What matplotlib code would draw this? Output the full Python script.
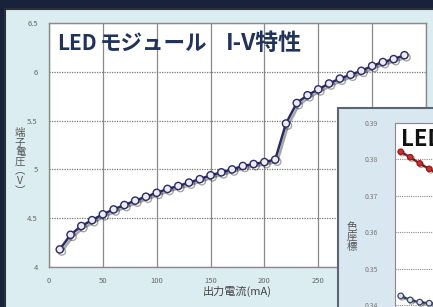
import matplotlib
matplotlib.use("Agg")
import matplotlib.pyplot as plt
import matplotlib.patheffects as pe
from matplotlib.patches import Rectangle

plt.rcParams['font.family'] = ['Noto Sans CJK JP', 'DejaVu Sans']

# I-V data (mA, V)
current = [10, 20, 30, 40, 50, 60, 70, 80, 90, 100, 110, 120, 130, 140, 150, 160, 170,
           180, 190, 200, 210, 220, 230, 240, 250, 260, 270, 280, 290, 300, 310, 320, 330]
voltage = [4.18, 4.33, 4.42, 4.48, 4.54, 4.59, 4.635, 4.68, 4.72, 4.76, 4.80, 4.83, 4.865,
           4.90, 4.94, 4.97, 5.00, 5.035, 5.055, 5.075, 5.10, 5.47, 5.68, 5.76, 5.82, 5.88,
           5.93, 5.97, 6.01, 6.06, 6.10, 6.13, 6.17]
x_ticks = [0, 50, 100, 150, 200, 250, 300, 350]
y_ticks = [4, 4.5, 5, 5.5, 6, 6.5]

# inset (colour coordinate), only the left part is visible
inset_x = [10, 20, 30, 40, 50]
inset_red = [0.3821, 0.3806, 0.3789, 0.3774, 0.3760]
inset_blue = [0.3425, 0.3414, 0.3408, 0.3405, 0.3402]
inset_ticks = [0.34, 0.35, 0.36, 0.37, 0.38, 0.39]

W, H = 433, 307
fig = plt.figure(figsize=(W / 100, H / 100), dpi=100)
fig.patch.set_facecolor('#18223a')


def box(x0, y0, x1, y1):
    # pixel box (top-left origin) -> figure fraction rect
    return [x0 / W, (H - y1) / H, (x1 - x0) / W, (y1 - y0) / H]


def shadow(off):
    return [pe.SimpleLineShadow(offset=(off, -off), shadow_color='k', alpha=0.35), pe.Normal()]


# main panel
l, b, w, h = box(5, 9, 440, 320)
fig.add_artist(Rectangle((l, b), w, h, transform=fig.transFigure, facecolor='#dcedf1',
                         edgecolor='#2a2f38', lw=1.5, zorder=-1))

ax = fig.add_axes(box(49, 23, 426, 267))
ax.set_facecolor('white')
ax.plot(current, voltage, color='#2b2b66', lw=1.8, marker='o', ms=5.2,
        mfc='#ecebf6', mec='#2b2b66', mew=1.0, zorder=3, path_effects=shadow(1.5))
ax.set_xlim(0, 350)
ax.set_ylim(4, 6.5)
ax.set_xticks(x_ticks)
ax.set_yticks(y_ticks)
ax.set_xticklabels([str(v) for v in x_ticks])
ax.set_yticklabels(['4', '4.5', '5', '5.5', '6', '6.5'])
ax.tick_params(length=0, labelsize=5.5, labelcolor='#666666')
ax.tick_params(axis='x', pad=7)
ax.tick_params(axis='y', pad=8)
ax.xaxis.grid(True, color='#8a8a8a', lw=0.9)
ax.yaxis.grid(True, color='#777777', lw=0.9, linestyle=(0, (1, 1)))
ax.set_axisbelow(True)
for s in ax.spines.values():
    s.set_color('#8a8a8a')
    s.set_linewidth(1.0)
ax.set_xlabel('出力電流(mA)', fontsize=8, color='#444444', labelpad=1)

# title in pieces so the spacing follows the reference
title_kw = dict(fontweight='bold', color='#22335a', va='center', ha='left')
fig.text(57 / W, 1 - 43 / H, 'LED', fontsize=15, **title_kw)
fig.text(100 / W, 1 - 43 / H, 'モジュール', fontsize=15.5, **title_kw)
fig.text(226 / W, 1 - 43 / H, 'I-V特性', fontsize=16.5, **title_kw)

fig.text(20 / W, 1 - 162 / H, '端\n子\n電\n圧\n︵\nV\n︶', fontsize=7.5, color='#555555',
         ha='center', va='center', linespacing=0.95)

# inset panel
l, b, w, h = box(338, 108, 460, 330)
fig.add_artist(Rectangle((l, b), w, h, transform=fig.transFigure, facecolor='#d9e7f0',
                         edgecolor='#5d6670', lw=1.5, zorder=1))

ax2 = fig.add_axes(box(395, 123, 595, 341.4), zorder=2)
ax2.set_facecolor('white')
ax2.plot(inset_x, inset_red, color='#8a1a1a', lw=1.5, marker='o', ms=4,
         mfc='#d42a2a', mec='#8a1a1a', mew=0.8, path_effects=shadow(1))
ax2.plot(inset_x, inset_blue, color='#3a4766', lw=1.5, marker='o', ms=4,
         mfc='#dfe3ee', mec='#3a4766', mew=0.9, path_effects=shadow(1))
ax2.set_xlim(4, 214.5)
ax2.set_ylim(0.33, 0.39)
ax2.set_yticks(inset_ticks)
ax2.set_yticklabels(['0.34', '0.35', '0.36', '0.37', '0.38', '0.39'])
ax2.set_xticks([])
ax2.tick_params(length=0, labelsize=5, labelcolor='#777777', pad=12)
ax2.yaxis.grid(True, color='#8a8a8a', lw=0.8, linestyle=(0, (1, 1)))
ax2.set_axisbelow(True)
for s in ax2.spines.values():
    s.set_color('#8a8a8a')
ax2.text(401 / W, 1 - 139 / H, 'LEDモジュール　色座標', transform=fig.transFigure,
         fontsize=16, fontweight='bold', color='#111111', va='center', ha='left')
fig.text(352 / W, 1 - 237 / H, '色\n座\n標', fontsize=7.5, color='#555555',
         ha='center', va='center', linespacing=1.0)

fig.savefig('out.png', dpi=100, facecolor=fig.get_facecolor())
